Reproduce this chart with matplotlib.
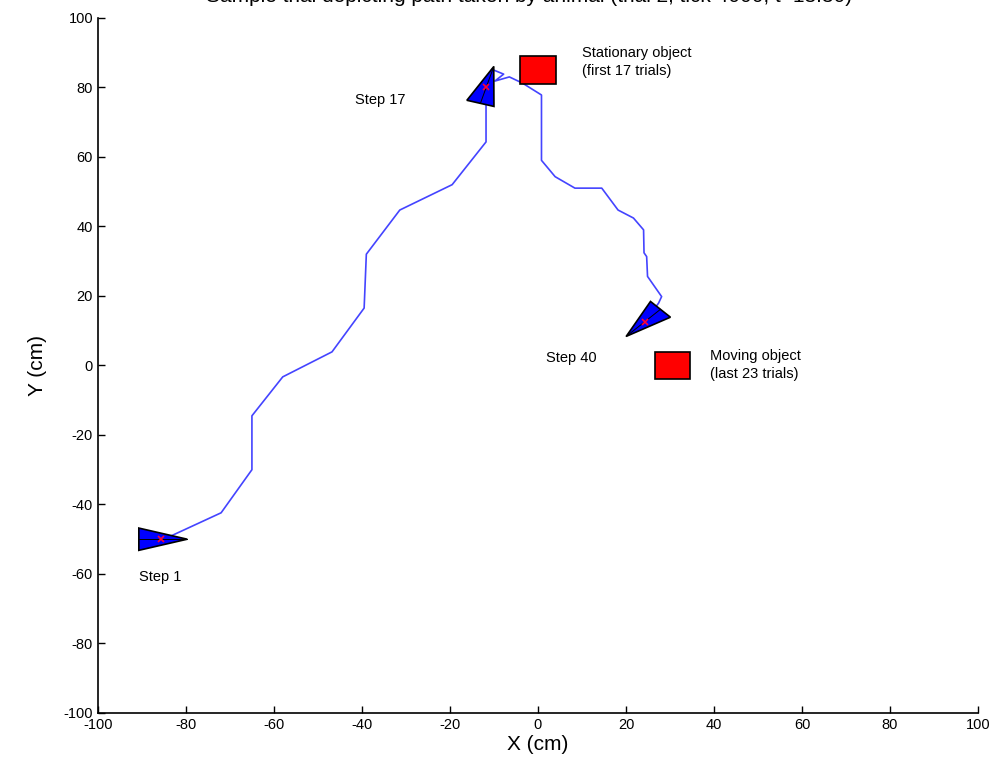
import matplotlib.pyplot as plt
import numpy as np
from matplotlib.patches import Polygon, Rectangle

plt.rcParams['font.family'] = ['Liberation Sans', 'DejaVu Sans']
plt.rcParams['axes.unicode_minus'] = False

# path of the animal (cm)
path_x = [-85, -72, -65, -65, -58, -46.8, -39.5, -39, -31.4, -19.5, -11.8, -11.8,
          -10.5, -7.8, -9.8, -6.5, -3.5, 0.8, 0.8, 3.9, 8.4, 14.5, 18.2, 21.7,
          24, 24.1, 24.7, 24.9, 28.1, 27.4, 24.3]
path_y = [-50, -42.4, -30, -14.5, -3.3, 3.9, 16.5, 32, 44.7, 52, 64.3, 80.5,
          85.2, 83.8, 81.8, 83, 81.2, 77.8, 59, 54.3, 51, 51, 44.7, 42.4,
          39, 32.4, 31.3, 25.6, 19.8, 17.9, 12.6]

# animal pose at the labelled steps
step_names = ['Step 1', 'Step 17', 'Step 40']
step_x = [-85.7, -11.7, 24.3]
step_y = [-50, 80.2, 12.6]
step_heading = [0, 74, 225]  # degrees
step_label_x = [-90.7, -41.6, 1.8]
step_label_y = [-61, 76.4, 2.2]

# objects
obj_names = ['Stationary object\n(first 17 trials)', 'Moving object\n(last 23 trials)']
obj_x = [0, 30.5]
obj_y = [85, 0]
obj_label_x = [10, 39]
obj_label_y = [87.4, 0.2]
obj_size = 8

fig = plt.figure(figsize=(9.99, 7.75), dpi=100)
ax = fig.add_axes([0.098, 0.080, 0.881, 0.897])

ax.plot(path_x, path_y, color='#4444ff', lw=1.2, zorder=2)

for name, x, y, h, lx, ly in zip(step_names, step_x, step_y, step_heading,
                                 step_label_x, step_label_y):
    d = np.array([np.cos(np.radians(h)), np.sin(np.radians(h))])
    n = np.array([-d[1], d[0]])
    p = np.array([x, y])
    tip = p + 6 * d
    base = p - 5 * d
    tri = Polygon([tip, base + 3.2 * n, base - 3.2 * n], closed=True,
                  facecolor='#0000ff', edgecolor='black', lw=1.2, zorder=3)
    ax.add_patch(tri)
    ax.plot([base[0], tip[0]], [base[1], tip[1]], color='black', lw=0.7, zorder=4)
    ax.plot(x, y, 'x', color='#ff0033', ms=5, mew=1.2, zorder=5)
    ax.text(lx, ly, name, fontsize=10.5, ha='left', va='center')

for name, x, y, lx, ly in zip(obj_names, obj_x, obj_y, obj_label_x, obj_label_y):
    ax.add_patch(Rectangle((x - obj_size / 2, y - obj_size / 2), obj_size, obj_size,
                           facecolor='#ff0000', edgecolor='black', lw=1.2, zorder=3))
    ax.text(lx, ly, name, fontsize=10.5, ha='left', va='center', linespacing=1.35)

ax.set_xlim(-100, 100)
ax.set_ylim(-100, 100)
ax.set_xticks(np.arange(-100, 101, 20))
ax.set_yticks(np.arange(-100, 101, 20))
ax.tick_params(direction='in', length=5, labelsize=10.5, width=1)
ax.spines['top'].set_visible(False)
ax.spines['right'].set_visible(False)
ax.spines['left'].set_linewidth(1.2)
ax.spines['bottom'].set_linewidth(1.2)
ax.set_xlabel('X (cm)', fontsize=15, labelpad=2)
ax.set_ylabel('Y (cm)', fontsize=15, labelpad=12)

# title is partly cut off at the top edge, as in the original
fig.text(0.53, 1 - 2 / 775, 'Sample trial depicting path taken by animal (trial 2, tick 4000, t=18.30)',
         fontsize=15, ha='center', va='baseline')

fig.savefig('out.png', dpi=100)
